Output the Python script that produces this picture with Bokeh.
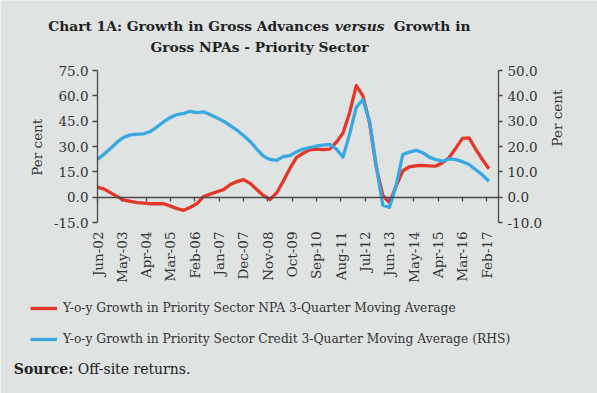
import math
from bokeh.plotting import figure
from bokeh.models import (Range1d, LinearAxis, FixedTicker, Label, Legend,
                          LegendItem, ColumnDataSource, PrintfTickFormatter)
from bokeh.embed import file_html
from bokeh.resources import INLINE

MONTHS = ["Jan", "Feb", "Mar", "Apr", "May", "Jun", "Jul", "Aug", "Sep", "Oct", "Nov", "Dec"]

# quarterly observations, Jun-02 .. Mar-17
quarters = []
for k in range(60):
    mi = 5 + 3 * k
    quarters.append(f"{MONTHS[mi % 12]}-{(2002 + mi // 12) % 100:02d}")

npa_growth = [5.9, 4.8, 2.5, 0.3, -1.8, -2.5, -3.2, -3.5, -3.9, -3.9,
              -3.9, -5.3, -6.8, -7.8, -6.0, -3.8, 0.4, 1.8, 3.2, 4.5,
              7.5, 9.2, 10.4, 8.2, 4.5, 1.0, -1.4, 2.5, 9.5, 17.0,
              23.5, 26.0, 28.0, 28.5, 28.2, 28.5, 32.5, 38.0, 50.0, 66.0,
              60.0, 44.0, 18.0, 1.0, -3.3, 6.5, 15.5, 18.0, 18.6, 18.8,
              18.5, 18.4, 20.4, 23.5, 29.0, 34.8, 35.1, 28.5, 22.3, 16.8]

credit_growth = [14.9, 17.0, 19.3, 21.8, 23.7, 24.6, 24.9, 25.0, 26.0, 27.8,
                 29.8, 31.5, 32.6, 33.1, 33.9, 33.4, 33.7, 32.5, 31.3, 30.0,
                 28.2, 26.5, 24.3, 22.0, 19.0, 16.2, 14.9, 14.5, 16.0, 16.4,
                 17.9, 19.0, 19.6, 20.2, 20.5, 20.8, 19.0, 15.8, 25.0, 35.5,
                 38.5, 30.0, 12.5, -3.2, -4.0, 4.5, 16.8, 17.8, 18.5, 17.6,
                 15.8, 14.8, 14.2, 15.1, 14.8, 14.0, 12.9, 10.8, 8.8, 6.3]

xtick_labels = ["Jun-02", "May-03", "Apr-04", "Mar-05", "Feb-06", "Jan-07", "Dec-07",
                "Nov-08", "Oct-09", "Sep-10", "Aug-11", "Jul-12", "Jun-13", "May-14",
                "Apr-15", "Mar-16", "Feb-17"]
left_ticks = [-15, 0, 15, 30, 45, 60, 75]
right_ticks = [-10, 0, 10, 20, 30, 40, 50]
x_end = 181.3  # month index where the right axis sits


def month_pos(label):
    mon, yy = label.split("-")
    return (2000 + int(yy) - 2002) * 12 + MONTHS.index(mon) - 5


BG = "#dfe3e2"
RED = "#e3372c"
BLUE = "#3aa8e0"
AX = "#4a4a4a"
TXT = "#333333"
FONT = "DejaVu Serif"

W, H = 597, 393
PL, PR, PT, PB = 97, 498, 70, 222  # plot-area edges in page pixels


def extend(lo, hi, a, b, n):
    """range covering the whole canvas when [lo, hi] must span pixels [a, b] of n"""
    k = (hi - lo) / (b - a)
    return lo - a * k, hi + (n - b) * k


xr0, xr1 = extend(0, x_end, PL, PR, W)
yl0, yl1 = extend(left_ticks[0], left_ticks[-1], H - PB, H - PT, H)
yr0, yr1 = extend(right_ticks[0], right_ticks[-1], H - PB, H - PT, H)

src = ColumnDataSource(dict(x=[month_pos(q) for q in quarters], npa=npa_growth, cred=credit_growth))

p = figure(width=W, height=H, output_backend="svg", toolbar_location=None,
           x_range=Range1d(xr0, xr1), y_range=Range1d(yl0, yl1), min_border=0,
           background_fill_color=BG, border_fill_color=BG, outline_line_color=None)
p.extra_y_ranges = {"right": Range1d(yr0, yr1)}
p.grid.visible = False

# ---- left axis
ya = p.yaxis[0]
ya.fixed_location = 0
ya.bounds = (left_ticks[0], left_ticks[-1])
ya.ticker = FixedTicker(ticks=left_ticks)
ya.formatter = PrintfTickFormatter(format="%.1f")

# ---- right axis
ra = LinearAxis(y_range_name="right", ticker=FixedTicker(ticks=right_ticks),
                formatter=PrintfTickFormatter(format="%.1f"), axis_label="Per cent",
                fixed_location=x_end, bounds=(right_ticks[0], right_ticks[-1]))
p.add_layout(ra, "right")
if "axis_label_orientation" in ra.properties():
    ra.axis_label_orientation = math.pi / 2

for ax, out, stand, lstand in ((ya, 5, 4, 13), (ra, 4, 5, 12)):
    ax.major_tick_out = out
    ax.major_tick_in = 0
    ax.minor_tick_out = 0
    ax.minor_tick_in = 0
    ax.major_label_standoff = stand
    ax.axis_label_standoff = lstand
    ax.axis_line_color = AX
    ax.major_tick_line_color = AX
    ax.axis_line_width = 1.3
    ax.major_tick_line_width = 1.3
    ax.major_label_text_font = FONT
    ax.major_label_text_font_size = "13.5px"
    ax.major_label_text_color = TXT
    ax.axis_label_text_font = FONT
    ax.axis_label_text_font_size = "13.5px"
    ax.axis_label_text_font_style = "normal"
    ax.axis_label_text_color = TXT

# ---- x axis: zero line with ticks, and a label row under the plot area
xticks = [month_pos(t) for t in xtick_labels]
xa = p.xaxis[0]
xa.fixed_location = 0
xa.bounds = (0, x_end)
xa.ticker = FixedTicker(ticks=xticks)
xa.major_label_overrides = {t: "" for t in xticks}
xa.axis_line_color = AX
xa.axis_line_width = 1.3
xa.major_tick_line_color = AX
xa.major_tick_line_width = 1.3
xa.major_tick_out = 4
xa.major_tick_in = 0
xa.minor_tick_line_color = None

xl = LinearAxis(fixed_location=left_ticks[0], ticker=FixedTicker(ticks=xticks),
                major_label_overrides={t: l for t, l in zip(xticks, xtick_labels)},
                major_label_orientation=math.pi / 2, axis_line_color=None,
                major_tick_line_color=None, minor_tick_line_color=None,
                major_tick_out=0, major_tick_in=0, major_label_standoff=9,
                major_label_text_font=FONT, major_label_text_font_size="13.5px",
                major_label_text_color=TXT)
p.add_layout(xl, "below")

# ---- series
r_npa = p.line("x", "npa", source=src, line_color=RED, line_width=3.3, line_join="round")
r_cred = p.line("x", "cred", source=src, y_range_name="right", line_color=BLUE,
                line_width=3.3, line_join="round")

legend = Legend(items=[
    LegendItem(label="Y-o-y Growth in Priority Sector NPA 3-Quarter Moving Average", renderers=[r_npa]),
    LegendItem(label="Y-o-y Growth in Priority Sector Credit 3-Quarter Moving Average (RHS)", renderers=[r_cred]),
], location=(30, H - 349), orientation="vertical", glyph_width=27, glyph_height=20,
    label_height=20, spacing=11, padding=0, margin=0, label_standoff=6,
    border_line_color=None, background_fill_alpha=0,
    label_text_font=FONT, label_text_font_size="12.3px", label_text_color=TXT)
p.add_layout(legend)


def lab(px, py, text, size, style="normal", align="left", angle=0.0, color="#222222"):
    p.add_layout(Label(x=px, y=H - py, x_units="screen", y_units="screen", text=text,
                       text_font=FONT, text_font_size=size, text_font_style=style, angle=angle,
                       text_color=color, text_align=align, text_baseline="middle"))


lab(47.7, 25, "Chart 1A: Growth in Gross Advances", "13.8px", "bold")
lab(334.3, 25, "versus", "13.8px", "bold italic")
lab(393.3, 25, "Growth in", "13.8px", "bold")
lab(259, 46.5, "Gross NPAs - Priority Sector", "13.8px", "bold", "center")
lab(36, 146.7, "Per cent", "13.5px", "normal", "center", math.pi / 2, TXT)  # left axis title
lab(13.3, 368.3, "Source:", "14px", "bold")
lab(77.3, 368.3, "Off-site returns.", "14px")

html = file_html(p, INLINE)
html = html.replace("<body>", '<body style="background-color:#dfe3e2;">', 1)
open("out.html", "w").write(html)
